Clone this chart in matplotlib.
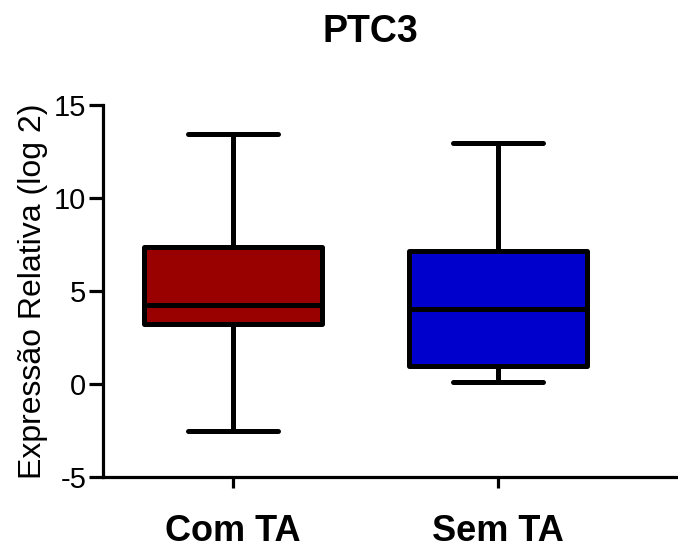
import matplotlib
matplotlib.use("Agg")
import matplotlib.pyplot as plt

categories = ["Com TA", "Sem TA"]
whisker_low = [-2.53, 0.1]
q1 = [3.23, 0.97]
median = [4.25, 4.03]
q3 = [7.37, 7.15]
whisker_high = [13.44, 12.96]
colors = ["#990000", "#0000CC"]
yticks = [-5, 0, 5, 10, 15]

plt.rcParams['font.family'] = ['Liberation Sans', 'DejaVu Sans']

fig = plt.figure(figsize=(6.78, 5.5), dpi=100)
ax = fig.add_axes([0.152, 0.133, 0.848, 0.676])

stats = []
for i, c in enumerate(categories):
    stats.append(dict(label=c, whislo=whisker_low[i], q1=q1[i], med=median[i],
                      q3=q3[i], whishi=whisker_high[i], fliers=[]))

lw = 3.6
bp = ax.bxp(stats, positions=[1, 2], widths=0.67, patch_artist=True,
            showfliers=False,
            boxprops=dict(linewidth=lw, edgecolor='black'),
            medianprops=dict(color='black', linewidth=lw),
            whiskerprops=dict(color='black', linewidth=lw),
            capprops=dict(color='black', linewidth=lw, solid_capstyle='round'),
            capwidths=0.34)
for patch, col in zip(bp['boxes'], colors):
    patch.set_facecolor(col)
    patch.set_joinstyle('round')

ax.set_xlim(0.51, 2.68)
ax.set_ylim(-5, 15)
ax.set_yticks(yticks)
ax.set_yticklabels([str(v) for v in yticks], fontsize=21)
ax.set_xticks([1, 2])
ax.set_xticklabels(categories, fontsize=26, fontweight='bold')
ax.tick_params(axis='y', length=10, width=2.3, direction='out', pad=2)
ax.tick_params(axis='x', length=8, width=2.3, direction='out', pad=19)

for s in ['top', 'right']:
    ax.spines[s].set_visible(False)
for s in ['left', 'bottom']:
    ax.spines[s].set_linewidth(2.3)

ax.set_ylabel("Expressão Relativa (log 2)", fontsize=23, labelpad=4)
fig.text(0.547, 0.942, "PTC3", fontsize=27, fontweight='bold', ha='center', va='center')

fig.savefig("out.png", dpi=100)
